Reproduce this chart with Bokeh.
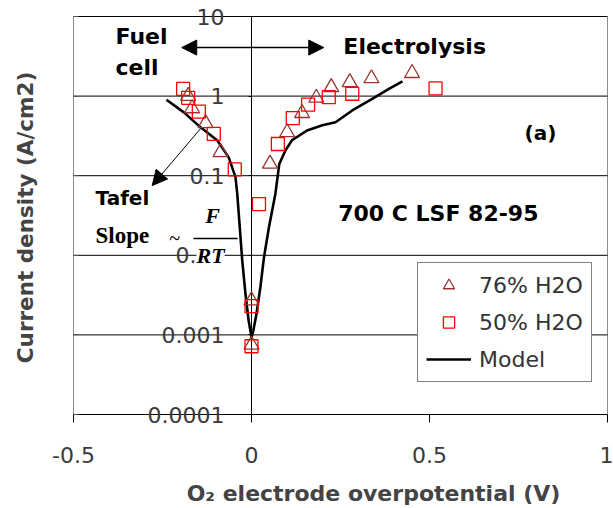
import math

from bokeh.plotting import figure
from bokeh.models import (FixedTicker, CustomJSTickFormatter, LogAxis, Label,
                          Arrow, NormalHead, Legend, LegendItem, Range1d)
from bokeh.embed import file_html
from bokeh.resources import INLINE

# O2 electrode overpotential (V) vs current density (A/cm2), 700 C, LSF 82-95
tri_v = [-0.178, -0.167, -0.129, -0.087, 0.0, 0.0, 0.052, 0.100, 0.142,
         0.182, 0.224, 0.276, 0.337, 0.451]
tri_j = [1.00, 0.70, 0.455, 0.197, 0.0027, 0.00075, 0.141, 0.35, 0.61,
         0.95, 1.29, 1.49, 1.67, 1.94]

sq_v = [-0.192, -0.178, -0.148, -0.106, -0.047, 0.0, 0.0, 0.021, 0.074,
        0.116, 0.159, 0.217, 0.283, 0.517]
sq_j = [1.23, 0.95, 0.64, 0.335, 0.12, 0.0023, 0.00072, 0.044, 0.25,
        0.53, 0.78, 0.97, 1.07, 1.25]

model_v = [-0.239, -0.190, -0.143, -0.096, -0.064, -0.045, -0.040, -0.026,
           -0.017, -0.008, -0.001, 0.0, 0.005, 0.014, 0.025, 0.035, 0.049,
           0.067, 0.078, 0.096, 0.114, 0.156, 0.199, 0.236, 0.283, 0.339,
           0.386, 0.424]
model_j = [0.90, 0.625, 0.405, 0.276, 0.170, 0.096, 0.059, 0.0086,
           0.0033, 0.0015, 0.0010, 0.00093, 0.00112, 0.00184, 0.0040, 0.0094,
           0.0225, 0.059, 0.14, 0.21, 0.28, 0.37, 0.43, 0.47, 0.66, 0.92,
           1.23, 1.53]

y_ticks = [0.0001, 0.001, 0.01, 0.1, 1, 10]
x_ticks = [-0.5, 0, 0.5, 1]
X_MIN, X_MAX = -0.5, 1.0
Y_MIN, Y_MAX = 0.0001, 10.0

SANS = "DejaVu Sans"
SERIF = "Liberation Serif"
TICK_COLOR = "#3a3a3a"
FRAME_GRAY = "#8c8c8c"

W, H = 613, 508
# plot box inside the canvas (pixels): left, right, top, bottom margins
M_LEFT, M_RIGHT, M_TOP, M_BOTTOM = 73, 6, 16, 94
px_per_v = (W - M_LEFT - M_RIGHT) / (X_MAX - X_MIN)
px_per_dec = (H - M_TOP - M_BOTTOM) / (math.log10(Y_MAX) - math.log10(Y_MIN))

# the frame fills the canvas so labels outside the plot box are not clipped
x_range = Range1d(X_MIN - M_LEFT / px_per_v, X_MAX + M_RIGHT / px_per_v)
y_range = Range1d(10 ** (math.log10(Y_MIN) - M_BOTTOM / px_per_dec),
                  10 ** (math.log10(Y_MAX) + M_TOP / px_per_dec))

p = figure(width=W, height=H, x_range=x_range, y_range=y_range,
           y_axis_type="log", output_backend="svg", toolbar_location=None,
           min_border=0, min_border_left=0, min_border_right=0,
           min_border_top=0, min_border_bottom=0)
p.background_fill_color = "white"
p.border_fill_color = "white"
p.outline_line_color = None
p.xgrid.visible = False
p.ygrid.visible = False

plain = CustomJSTickFormatter(code="return tick.toString();")
blank = CustomJSTickFormatter(code="return '';")

# value axis crossing the horizontal axis at 0 V
yax = p.yaxis[0]
yax.fixed_location = 0
yax.bounds = (Y_MIN, Y_MAX)
yax.ticker = FixedTicker(ticks=y_ticks)
yax.formatter = plain
yax.axis_line_color = None
yax.major_tick_line_color = "black"
yax.major_tick_out = 3
yax.major_tick_in = 0
yax.minor_tick_line_color = None
yax.major_label_standoff = 24
yax.major_label_text_font = SANS
yax.major_label_text_font_size = "22px"
yax.major_label_text_color = TICK_COLOR

# left edge of the plot box with short inward ticks
frame_axis = LogAxis(ticker=FixedTicker(ticks=y_ticks), formatter=blank,
                     fixed_location=X_MIN, bounds=(Y_MIN, Y_MAX),
                     axis_line_color=None, major_tick_in=5,
                     major_tick_out=0, major_tick_line_color="#555555",
                     minor_tick_line_color=None)
p.add_layout(frame_axis, "left")

xax = p.xaxis[0]
xax.fixed_location = Y_MIN
xax.bounds = (X_MIN, X_MAX)
xax.ticker = FixedTicker(ticks=x_ticks)
xax.formatter = plain
xax.axis_line_color = None
xax.major_tick_line_color = "black"
xax.major_tick_out = 8
xax.major_tick_in = 0
xax.minor_tick_line_color = None
xax.major_label_standoff = 24
xax.major_label_text_font = SANS
xax.major_label_text_font_size = "22px"
xax.major_label_text_color = TICK_COLOR

# plot box sides, decade gridlines and the 0 V line
p.segment(x0=[X_MIN, X_MAX], y0=[Y_MIN, Y_MIN], x1=[X_MIN, X_MAX],
          y1=[Y_MAX, Y_MAX], line_color=FRAME_GRAY, line_width=1)
p.segment(x0=[X_MIN] * len(y_ticks), y0=y_ticks,
          x1=[X_MAX] * len(y_ticks), y1=y_ticks,
          line_color="black", line_width=1)
p.segment(x0=[0], y0=[Y_MIN], x1=[0], y1=[Y_MAX],
          line_color="black", line_width=1)

# data
model_r = p.line(model_v, model_j, line_color="black", line_width=2.6)
tri_r = p.scatter(tri_v, tri_j, marker="triangle", size=15,
                  line_color="#993333", fill_color=None, line_width=1.3)
sq_r = p.scatter(sq_v, sq_j, marker="square", size=13,
                 line_color="#ff0000", fill_color=None, line_width=1.3)

legend = Legend(items=[LegendItem(label="76% H2O", renderers=[tri_r]),
                       LegendItem(label="50% H2O", renderers=[sq_r]),
                       LegendItem(label="Model", renderers=[model_r])],
                location=(417, 126), margin=0, padding=8, spacing=9,
                glyph_width=45, glyph_height=28, label_height=28,
                label_standoff=8, label_text_font=SANS,
                label_text_font_size="22px", label_text_color="#333333",
                border_line_color="black", border_line_width=1,
                background_fill_color="white", background_fill_alpha=1)
p.add_layout(legend)

# operating-mode arrows and notes
head = dict(size=15, fill_color="black", line_color="black")
p.add_layout(Arrow(start=NormalHead(**head), end=NormalHead(**head),
                   x_start=-0.196, y_start=4.07, x_end=0.203, y_end=4.07,
                   line_color="black", line_width=1.5))
p.add_layout(Arrow(end=NormalHead(size=15, fill_color="black",
                                  line_color="black"),
                   x_start=-0.143, y_start=0.391, x_end=-0.279, y_end=0.0751,
                   line_color="black", line_width=1))


def note(x, y, text, size="22px", font=SANS, style="bold", align="left",
         **kw):
    p.add_layout(Label(x=x, y=y, text=text, text_font=font,
                       text_font_size=size, text_font_style=style,
                       text_color="black", text_align=align,
                       text_baseline="middle", **kw))


note(-0.382, 5.59, "Fuel")
note(-0.382, 2.28, "cell")
note(0.258, 4.19, "Electrolysis")
note(0.767, 0.348, "(a)", size="20px")
note(0.2435, 0.0334, "700 C LSF 82-95")
note(-0.438, 0.0523, "Tafel", size="20px")
note(-0.438, 0.01767, "Slope", size="23px", font=SERIF)
note(-0.216, 0.01668, "~", size="20px", font=SERIF, style="normal",
     align="center")
note(-0.1096, 0.0315, "F", size="22px", font=SERIF, style="bold italic",
     align="center")
note(-0.115, 0.01, "RT", size="22px", font=SERIF, style="bold italic",
     align="center", background_fill_color="white")
p.segment(x0=[-0.163], y0=[0.0162], x1=[-0.039], y1=[0.0162],
          line_color="black", line_width=1.5)

# axis titles
p.add_layout(Label(x=373, y=H - 493, x_units="screen", y_units="screen",
                   text="O\u2082 electrode overpotential (V)",
                   text_font=SANS, text_font_size="22px",
                   text_font_style="bold", text_align="center",
                   text_baseline="middle"))
p.add_layout(Label(x=25, y=H - 217, x_units="screen", y_units="screen",
                   angle=math.pi / 2, text="Current density (A/cm2)",
                   text_font=SANS, text_font_size="21.5px",
                   text_font_style="bold", text_align="center",
                   text_baseline="middle"))

open("out.html", "w").write(file_html(p, INLINE))
